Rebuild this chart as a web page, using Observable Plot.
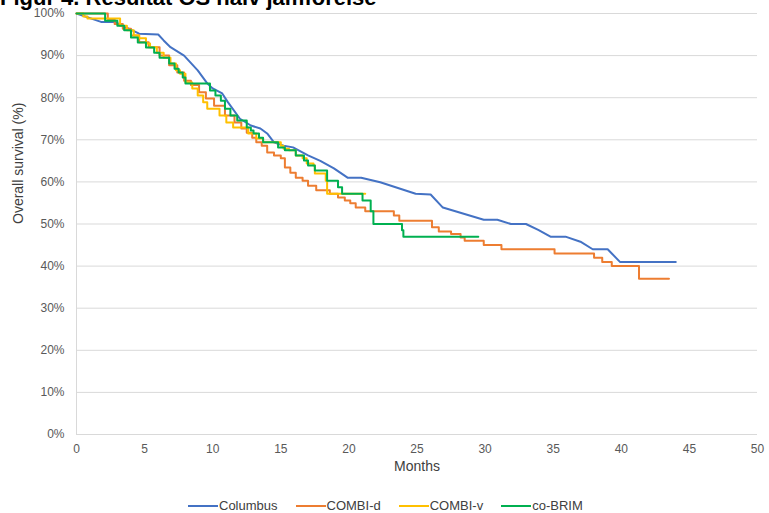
<!DOCTYPE html>
<html><head><meta charset="utf-8">
<script src="https://cdn.jsdelivr.net/npm/d3@7"></script>
<script src="https://cdn.jsdelivr.net/npm/@observablehq/plot@0.6"></script>
<style>
body{margin:0;background:#fff;font-family:"Liberation Sans",Arial,sans-serif;}
#wrap{position:relative;width:769px;height:513px;overflow:hidden;background:#fff;}
#chart{position:absolute;left:0;top:0;}
#title{position:absolute;left:0;top:-13px;font-size:22px;font-weight:bold;line-height:22px;white-space:nowrap;color:#000;}
#legend{position:absolute;left:188px;top:498px;display:flex;gap:18px;font-size:13px;color:#404040;line-height:16px;}
.item{display:flex;align-items:center;}
.sw{width:30px;height:2px;margin-right:1px;}
</style></head>
<body><div id="wrap"><div id="chart"></div><div id="title">Figur 4. Resultat OS naiv jämförelse</div><div id="legend"></div></div>
<script>
const seriesNames = ["Columbus", "COMBI-d", "COMBI-v", "co-BRIM"];
const seriesColors = ["#4472C4", "#ED7D31", "#FFC000", "#00B050"];
const xTicks = [0, 5, 10, 15, 20, 25, 30, 35, 40, 45, 50];
const yTicks = [0, 10, 20, 30, 40, 50, 60, 70, 80, 90, 100];

// [month, overall survival %]
const columbus = [[0,100],[1.8,98],[2.8,98],[4.6,95.2],[6,95],[6.4,93.6],[6.9,92],[7.9,90],[8.9,86.5],[9.6,83.4],[10,82.2],[10.7,81],[11.1,79],[12,75],[12.8,73.4],[13.5,72.7],[14,71.5],[14.5,69.4],[15.2,68.6],[15.9,68.2],[17,66.3],[17.9,65],[18.9,63.2],[19.9,61],[20.9,61],[22.3,59.9],[24.9,57.2],[26,57],[26.9,53.9],[29.9,51],[30.9,51],[31.9,50],[33,50],[33.9,48.6],[34.8,47],[35.9,47],[37,45.8],[37.9,44],[39,44],[39.9,41],[44,41]];
const combiD = [[0,100],[2.3,98.7],[2.8,97.5],[3.4,96.4],[4.0,94.8],[4.6,93.2],[5.3,92],[6.1,90],[6.8,87.7],[7.4,86],[7.9,84],[8.4,83],[9.0,81.3],[9.5,79.8],[10.1,78.1],[10.9,75.8],[11.6,74.1],[12.1,72.7],[12.5,71.7],[12.9,70.5],[13.2,69.4],[13.6,68.6],[14.0,67],[14.5,66.3],[15.0,65.6],[15.3,63.4],[15.7,62.2],[16.1,61],[16.6,60.3],[17.0,59.1],[17.6,58],[18.6,57.2],[19.2,56.3],[19.7,55.6],[20.1,54.9],[20.5,53.9],[21.2,53],[23.3,52],[23.7,50.8],[26.1,49.2],[26.6,48.2],[27.5,47.6],[28.2,46.8],[28.5,46],[29.9,45],[31.2,44],[35.1,43],[38.0,42],[38.6,41],[39.3,40],[41.3,37],[43.5,37]];
const combiV = [[0,100],[0.5,99.3],[0.8,98.8],[3.2,97.1],[3.7,96],[4.2,94.8],[4.6,94.1],[5.1,92.9],[5.4,92],[5.9,90.7],[6.4,89.5],[6.9,88.1],[7.3,86.5],[7.6,85.7],[8.0,83.6],[8.5,82.2],[8.9,80.5],[9.3,78.9],[9.6,77.4],[10.5,75.8],[11.0,74.1],[11.5,72.9],[12.6,71.5],[13.2,70.3],[13.7,69.4],[15.0,68.6],[15.2,67.9],[15.6,67.5],[16.1,66.3],[16.6,65.6],[16.9,64.4],[17.4,63.9],[17.5,62],[18.3,60.3],[18.4,57.2],[21.2,57.2]];
const coBrim = [[0,100],[2.1,98.3],[3.0,97.1],[3.5,96],[4.0,94.3],[4.5,93.1],[5.1,91.9],[5.7,90.7],[6.1,89.5],[6.8,88.1],[7.2,86.9],[7.5,86],[7.8,84.8],[8.0,83.4],[9.8,81.7],[10.2,80.5],[10.6,79.3],[10.9,77.4],[11.3,75.8],[11.8,74.6],[12.5,72.9],[12.8,72.2],[13.0,71.5],[13.4,70.5],[13.7,69.4],[14.8,68.2],[15.3,67.5],[16.1,66.3],[16.7,65.1],[17.0,63.9],[17.5,62.7],[18.4,60.3],[19.2,58.7],[19.5,57.2],[21.0,55.6],[21.6,53],[21.8,50],[23.9,48.5],[24.0,47],[29.5,47]];

const rows = (name, pts) => pts.map(([m, s]) => ({series: name, month: m, os: s}));
const lineOpts = {x: "month", y: "os", stroke: "series", strokeWidth: 2, strokeLinejoin: "round"};

const chart = Plot.plot({
  width: 769, height: 490,
  marginTop: 13, marginLeft: 76, marginRight: 12, marginBottom: 56,
  style: {fontFamily: "'Liberation Sans', Arial, sans-serif", fontSize: "12px", color: "#595959", background: "white", overflow: "visible"},
  x: {domain: [0, 50], ticks: xTicks, tickSize: 0, tickPadding: 10, label: null},
  y: {domain: [0, 100], ticks: yTicks, tickSize: 0, tickPadding: 12, tickFormat: d => d + "%", label: null},
  color: {domain: seriesNames, range: seriesColors},
  marks: [
    Plot.ruleY(yTicks, {stroke: "#d9d9d9", strokeWidth: 1}),
    Plot.ruleX([0], {stroke: "#d9d9d9", strokeWidth: 1}),
    Plot.line(rows(seriesNames[0], columbus), {...lineOpts, curve: "linear"}),
    Plot.line(rows(seriesNames[1], combiD), {...lineOpts, curve: "step-after"}),
    Plot.line(rows(seriesNames[2], combiV), {...lineOpts, curve: "step-after"}),
    Plot.line(rows(seriesNames[3], coBrim), {...lineOpts, curve: "step-after"}),
    Plot.text(["Months"], {text: d => d, frameAnchor: "bottom", dy: 36, fontSize: 14, fill: "#404040"}),
    Plot.text(["Overall survival (%)"], {text: d => d, frameAnchor: "left", rotate: -90, dx: -58, fontSize: 14, fill: "#404040"})
  ]
});
document.getElementById("chart").appendChild(chart);

const legend = document.getElementById("legend");
seriesNames.forEach((n, i) => {
  const it = document.createElement("div");
  it.className = "item";
  const sw = document.createElement("span");
  sw.className = "sw";
  sw.style.background = seriesColors[i];
  const tx = document.createElement("span");
  tx.textContent = n;
  it.appendChild(sw); it.appendChild(tx);
  legend.appendChild(it);
});
</script></body></html>
